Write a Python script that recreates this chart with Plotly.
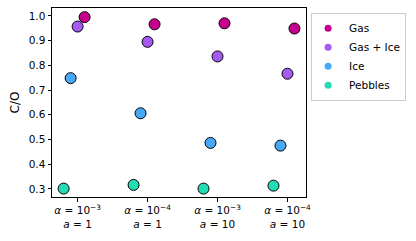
import plotly.graph_objects as go

groups = [0, 1, 2, 3]
tick_labels = [
    "<i>α</i> = 10<sup>−3</sup><br><i>a</i> = 1",
    "<i>α</i> = 10<sup>−4</sup><br><i>a</i> = 1",
    "<i>α</i> = 10<sup>−3</sup><br><i>a</i> = 10",
    "<i>α</i> = 10<sup>−4</sup><br><i>a</i> = 10",
]
series_names = ["Gas", "Gas + Ice", "Ice", "Pebbles"]
gas = [0.995, 0.966, 0.970, 0.949]
gas_ice = [0.957, 0.895, 0.836, 0.766]
ice = [0.748, 0.606, 0.486, 0.475]
pebbles = [0.301, 0.316, 0.301, 0.313]
offsets = [0.1, 0.0, -0.1, -0.2]
colors = ["#c6008c", "#a55af5", "#48a8f5", "#22dcb5"]

fig = go.Figure()
for name, vals, off, col in zip(series_names, [gas, gas_ice, ice, pebbles], offsets, colors):
    fig.add_trace(go.Scatter(
        x=[g + off for g in groups], y=vals, mode="markers", name=name,
        marker=dict(size=11, color=col, line=dict(color="black", width=1)),
        showlegend=False,
    ))
for name, col in zip(series_names, colors):
    fig.add_trace(go.Scatter(
        x=[None], y=[None], mode="markers", name=name,
        marker=dict(size=7, color=col, line=dict(width=0)),
    ))

fig.update_layout(
    width=416, height=241,
    margin=dict(l=52, r=110, t=8, b=44, autoexpand=False),
    paper_bgcolor="white", plot_bgcolor="white",
    font=dict(family="DejaVu Sans", size=10, color="black"),
    showlegend=True,
    legend=dict(
        x=1.02, y=0.975, xanchor="left", yanchor="top",
        bordercolor="#cccccc", borderwidth=1,
        font=dict(size=10.5), tracegroupgap=0,
        itemwidth=32, indentation=-5,
    ),
    xaxis=dict(
        range=[-0.366, 3.265], tickvals=groups, ticktext=tick_labels,
        showgrid=False, zeroline=False, showline=True, linecolor="black",
        linewidth=1, mirror=True, ticks="outside", ticklen=3.5,
        tickcolor="black", tickfont=dict(size=10.5), automargin=False,
    ),
    yaxis=dict(
        range=[0.267, 1.032], tickvals=[0.3, 0.4, 0.5, 0.6, 0.7, 0.8, 0.9, 1.0],
        tickformat=".1f", tickfont=dict(size=10.5), automargin=False,
        title=dict(text="C/O", standoff=6),
        showgrid=False, zeroline=False, showline=True, linecolor="black",
        linewidth=1, mirror=True, ticks="outside", ticklen=3.5,
        tickcolor="black",
    ),
)

fig.write_html("out.html", config={"displayModeBar": False},
               post_script="document.body.style.margin='0';")
